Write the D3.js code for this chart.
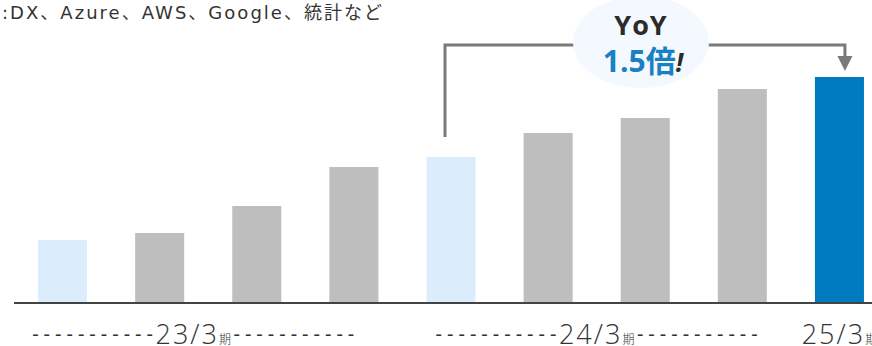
<!DOCTYPE html>
<html>
<head>
<meta charset="utf-8">
<script src="https://cdn.jsdelivr.net/npm/d3@7"></script>
<style>
  body { margin: 0; background: #fff; }
  svg { display: block; font-family: "Open Sans", "Noto Sans CJK JP", sans-serif; }
</style>
</head>
<body>
<svg width="872" height="346"></svg>
<script>
const quarters = ['23/3-1', '23/3-2', '23/3-3', '23/3-4', '24/3-1', '24/3-2', '24/3-3', '24/3-4', '25/3-1'];
const values = [62, 69, 96, 135, 145, 169, 184, 213, 225];
const barKinds = ['past', 'grey', 'grey', 'grey', 'past', 'grey', 'grey', 'grey', 'now'];
const periods = ['23/3', '24/3', '25/3'];
const periodFirst = [0, 4, 8];
const periodLast = [3, 7, 8];
const noteText = ':DX、Azure、AWS、Google、統計など';
const yoyTop = 'YoY';
const yoyValue = '1.5倍';

const svg = d3.select('svg');
const color = d3.scaleOrdinal()
  .domain(['past', 'grey', 'now'])
  .range(['#dbedfc', '#bebebe', '#007bbf']);

const x = d3.scaleBand()
  .domain(quarters)
  .range([14, 888])
  .paddingInner(0.495)
  .paddingOuter(0.2475);
const y = d3.scaleLinear()
  .domain([0, 225])
  .range([302, 77]);

// note at top
svg.append('text')
  .attr('x', 2)
  .attr('y', 19)
  .attr('font-family', '"DejaVu Sans", "Noto Sans CJK JP", sans-serif')
  .attr('font-size', 18)
  .attr('fill', '#333')
  .attr('textLength', 380)
  .attr('lengthAdjust', 'spacing')
  .text(noteText);

// bars
svg.selectAll('.bar')
  .data(values)
  .enter()
  .append('rect')
  .classed('bar', true)
  .attr('x', (d, i) => x(quarters[i]))
  .attr('width', x.bandwidth())
  .attr('y', d => y(d))
  .attr('height', d => y(0) - y(d))
  .attr('fill', (d, i) => color(barKinds[i]));

// baseline
svg.append('line')
  .attr('x1', 14).attr('x2', 872)
  .attr('y1', y(0) + 1).attr('y2', y(0) + 1)
  .attr('stroke', '#444')
  .attr('stroke-width', 2);

// YoY bracket
const bx0 = x(quarters[4]) + x.bandwidth() / 2 - 6;
const bx1 = x(quarters[8]) + x.bandwidth() / 2 + 5.5;
const by = 45;
svg.append('path')
  .attr('d', `M${bx0},${y(values[4]) - 20} V${by} H${bx1} V${y(values[8]) - 20}`)
  .attr('fill', 'none')
  .attr('stroke', '#7a7a7a')
  .attr('stroke-width', 3);
svg.append('path')
  .attr('d', `M${bx1 - 7.5},${y(values[8]) - 21} L${bx1 + 7.5},${y(values[8]) - 21} L${bx1},${y(values[8]) - 6} Z`)
  .attr('fill', '#7a7a7a');

// bubble
svg.append('ellipse')
  .attr('cx', 641).attr('cy', 42)
  .attr('rx', 68).attr('ry', 46)
  .attr('fill', '#f3f9fe');
svg.append('text')
  .attr('x', 641).attr('y', 35)
  .attr('text-anchor', 'middle')
  .attr('font-size', 27)
  .attr('font-weight', 'bold')
  .attr('letter-spacing', 1)
  .attr('fill', '#2b2b2b')
  .text(yoyTop);
const yoy = svg.append('text')
  .attr('x', 643).attr('y', 72)
  .attr('text-anchor', 'middle')
  .attr('font-weight', 'bold');
yoy.append('tspan')
  .attr('font-size', 30)
  .attr('fill', '#1a80c4')
  .text(yoyValue);
yoy.append('tspan')
  .attr('font-size', 26)
  .attr('font-style', 'italic')
  .attr('fill', '#2b2b2b')
  .text('!');

// period labels
const dashes = '-----------';
periods.forEach((p, k) => {
  const left = x(quarters[periodFirst[k]]);
  const right = x(quarters[periodLast[k]]) + x.bandwidth();
  const t = svg.append('text')
    .attr('x', (left + right) / 2 + (k === 0 ? -15 : 0))
    .attr('y', 344)
    .attr('text-anchor', 'middle')
    .attr('fill', '#333')
    .attr('font-weight', 300);
  const multi = periodFirst[k] !== periodLast[k];
  if (multi) {
    t.append('tspan')
      .attr('font-family', '"DejaVu Sans Mono", monospace')
      .attr('font-size', 19)
      .attr('dy', -3)
      .text(dashes);
  }
  t.append('tspan')
    .attr('font-size', 27)
    .attr('letter-spacing', 2)
    .attr('dy', multi ? 3 : 0)
    .text(p);
  t.append('tspan')
    .attr('font-family', '"Noto Sans CJK JP", sans-serif')
    .attr('font-size', 12)
    .text('期');
  if (multi) {
    t.append('tspan')
      .attr('font-family', '"DejaVu Sans Mono", monospace')
      .attr('font-size', 19)
      .attr('dy', -3)
      .text(dashes);
  }
});
</script>
</body>
</html>
